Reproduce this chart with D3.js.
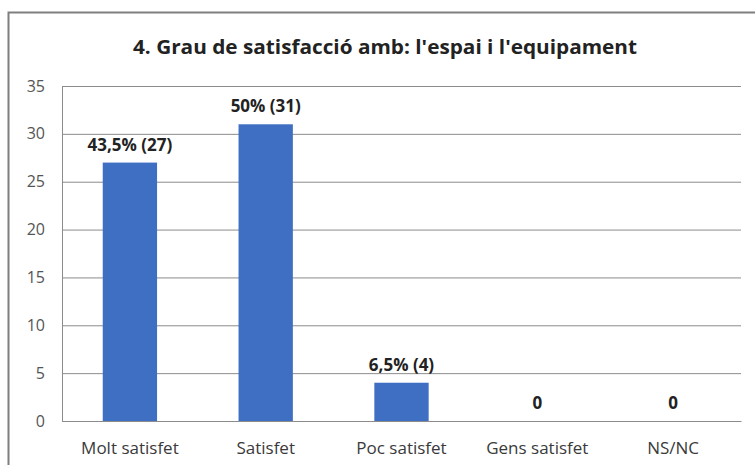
<!DOCTYPE html>
<html>
<head>
<meta charset="utf-8">
<script src="https://cdnjs.cloudflare.com/ajax/libs/d3/7.8.5/d3.min.js"></script>
<style>
  body { margin: 0; background: #fff; }
  svg { display: block; font-family: "Open Sans", "DejaVu Sans", sans-serif; }
</style>
</head>
<body>
<div id="chart"></div>
<script>
var categories = ["Molt satisfet", "Satisfet", "Poc satisfet", "Gens satisfet", "NS/NC"];
var values = [27, 31, 4, 0, 0];
var valueLabels = ["43,5% (27)", "50% (31)", "6,5% (4)", "0", "0"];
var yTicks = [0, 5, 10, 15, 20, 25, 30, 35];
var title = "4. Grau de satisfacció amb: l'espai i l'equipament";

var svgWidth = 755, svgHeight = 465;
var margin = { top: 86, right: 14, bottom: 44, left: 62 };
var chartWidth = svgWidth - margin.left - margin.right;
var chartHeight = svgHeight - margin.top - margin.bottom;

var svg = d3.select("#chart").append("svg")
    .attr("width", svgWidth)
    .attr("height", svgHeight);

// Outer frame of the chart object.
svg.append("rect")
    .attr("x", 8.5).attr("y", 12.5)
    .attr("width", 760).attr("height", 470)
    .attr("fill", "#fff")
    .attr("stroke", "#7f7f7f")
    .attr("stroke-width", 2);

svg.append("text")
    .attr("x", 385)
    .attr("y", 54)
    .attr("text-anchor", "middle")
    .attr("textLength", 504)
    .attr("lengthAdjust", "spacingAndGlyphs")
    .style("font-size", "19.5px")
    .style("font-weight", "bold")
    .attr("fill", "#222")
    .text(title);

var chartGroup = svg.append("g")
    .attr("transform", `translate(${margin.left}, ${margin.top})`);

var xBandScale = d3.scaleBand()
    .domain(categories)
    .range([0, chartWidth])
    .paddingInner(0.6)
    .paddingOuter(0.3);

var yLinearScale = d3.scaleLinear()
    .domain([0, 35])
    .range([chartHeight, 0]);

// Horizontal gridlines.
var leftAxis = d3.axisLeft(yLinearScale)
    .tickValues(yTicks)
    .tickSize(-chartWidth)
    .tickPadding(17);

var yAxis = chartGroup.append("g").call(leftAxis);
yAxis.select(".domain").attr("stroke", "#8c8c8c");
yAxis.selectAll(".tick line").attr("stroke", "#8c8c8c").attr("stroke-width", 1);
yAxis.selectAll(".tick text")
    .attr("fill", "#555")
    .style("font-size", "16px")
    .style("font-family", "\"Open Sans\", sans-serif");

// Category labels.
var bottomAxis = d3.axisBottom(xBandScale).tickSize(0).tickPadding(21);
var xAxis = chartGroup.append("g")
    .attr("transform", `translate(0, ${chartHeight})`)
    .call(bottomAxis);
xAxis.select(".domain").attr("stroke", "#8c8c8c");
xAxis.selectAll(".tick text")
    .attr("fill", "#3a3a3a")
    .style("font-size", "17px")
    .style("font-family", "\"Open Sans\", sans-serif");

// Bars.
chartGroup.selectAll("rect.bar")
    .data(values)
    .enter().append("rect")
    .attr("class", "bar")
    .attr("x", (d, i) => xBandScale(categories[i]))
    .attr("y", d => yLinearScale(d))
    .attr("width", xBandScale.bandwidth())
    .attr("height", d => chartHeight - yLinearScale(d))
    .attr("fill", "#3f6fc2");

// Value labels.
chartGroup.selectAll("text.vlabel")
    .data(values)
    .enter().append("text")
    .attr("class", "vlabel")
    .attr("x", (d, i) => xBandScale(categories[i]) + xBandScale.bandwidth() / 2)
    .attr("y", d => yLinearScale(d) - 12)
    .attr("text-anchor", "middle")
    .style("font-size", "17px")
    .style("font-weight", "bold")
    .attr("fill", "#222")
    .text((d, i) => valueLabels[i]);
</script>
</body>
</html>
